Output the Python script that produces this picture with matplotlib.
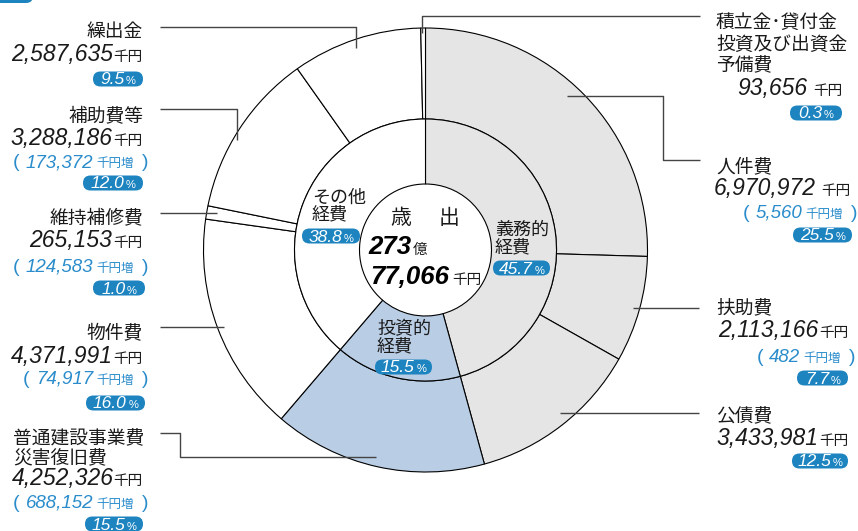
import matplotlib
matplotlib.use('Agg')
import matplotlib.pyplot as plt
from matplotlib.patches import FancyBboxPatch

# ---------------- data ----------------
outer_labels = ['人件費', '扶助費', '公債費', '普通建設事業費\n災害復旧費', '物件費',
                '維持補修費', '補助費等', '繰出金', '積立金･貸付金\n投資及び出資金\n予備費']
outer_values = [6970972, 2113166, 3433981, 4252326, 4371991, 265153, 3288186, 2587635, 93656]
outer_value_text = ['6,970,972', '2,113,166', '3,433,981', '4,252,326', '4,371,991',
                    '265,153', '3,288,186', '2,587,635', '93,656']
outer_pct = ['25.5', '7.7', '12.5', '15.5', '16.0', '1.0', '12.0', '9.5', '0.3']
outer_increase = ['5,560', '482', None, '688,152', '74,917', '124,583', '173,372', None, None]
outer_group = [0, 0, 0, 1, 2, 2, 2, 2, 2]

inner_labels = ['義務的\n経費', '投資的\n経費', 'その他\n経費']
inner_pct = ['45.7', '15.5', '38.8']
inner_values = [sum(v for v, g in zip(outer_values, outer_group) if g == k) for k in range(3)]

total_oku = '273'
total_sen = '77,066'
center_title = ['歳', '出']

# ---------------- style ----------------
GRAY = '#e5e5e5'
LBLUE = '#b9cde5'
BADGE = '#1d84c0'
TBLUE = '#2a8ccb'
INK = '#1a1a1a'
LINE = '#444444'
CJK = 'Noto Sans CJK JP'
LAT = 'Liberation Sans'
group_colors = [GRAY, LBLUE, 'white']

W, H = 858, 531
fig = plt.figure(figsize=(W / 100, H / 100), dpi=100)
ax = fig.add_axes([0, 0, 1, 1])
CX, CY = 425.5, 250
R_OUT, R_MID, R_IN = 222, 131, 66

ax.pie(outer_values, radius=R_OUT, center=(CX, CY), startangle=-90, counterclock=True,
       colors=[group_colors[g] for g in outer_group],
       wedgeprops=dict(width=R_OUT - R_MID, edgecolor='black', linewidth=0.8), frame=True)
ax.pie(inner_values, radius=R_MID, center=(CX, CY), startangle=-90, counterclock=True,
       colors=group_colors,
       wedgeprops=dict(width=R_MID - R_IN, edgecolor='black', linewidth=0.8), frame=True)

ax.set_xlim(0, W)
ax.set_ylim(H, 0)
ax.set_aspect('auto')
ax.axis('off')

renderer = fig.canvas.get_renderer()

NAME = dict(fontfamily=CJK, fontsize=13.5, color=INK)
NUM = dict(fontfamily=LAT, fontstyle='italic', fontsize=16.5, color=INK)
UNIT = dict(fontfamily=CJK, fontsize=10.5, color=INK)
INC = dict(fontfamily=LAT, fontstyle='italic', fontsize=13.5, color=TBLUE)
INCU = dict(fontfamily=CJK, fontsize=9, color=TBLUE)
PAREN = dict(fontfamily=LAT, fontsize=14, color=TBLUE)
BNUM = dict(fontfamily=LAT, fontstyle='italic', fontsize=12.5, color='white')
BPCT = dict(fontfamily=LAT, fontsize=8, color='white')


def place(x, y, pieces, ha='right'):
    items = []
    for s, kw, gap in pieces:
        t = ax.text(0, y, s, ha='left', va='baseline', **kw)
        w = t.get_window_extent(renderer).width
        items.append((t, gap, w))
    total = sum(g + w for _, g, w in items) - items[0][1]
    if ha == 'right':
        cur = x - total
    elif ha == 'center':
        cur = x - total / 2
    else:
        cur = x
    for i, (t, gap, w) in enumerate(items):
        if i > 0:
            cur += gap
        t.set_x(cur)
        cur += w


def badge(x_right, yc, w, pct, h=15):
    p = FancyBboxPatch((x_right - w, yc - h / 2), w, h,
                       boxstyle='round,pad=0,rounding_size=7.5',
                       facecolor=BADGE, edgecolor='none', zorder=3)
    ax.add_patch(p)
    place(x_right - w / 2, yc + 5.5, [(pct, dict(BNUM, zorder=4), 0),
                                       ('%', dict(BPCT, zorder=4), 1.5)], ha='center')


# layout for each outer label (index matches data order)
layout = {
    0: dict(name=(716, [163], 'left'), num=(851, 188, 6), inc=(857, 212), badge=(852, 235, 59)),
    1: dict(name=(716, [305], 'left'), num=(848, 330, 0), inc=(855, 356), badge=(848, 378, 51)),
    2: dict(name=(716, [413], 'left'), num=(848, 438, 0), inc=None, badge=(848, 461, 56)),
    3: dict(name=(13, [435, 455], 'left'), num=(143, 478, 0), inc=(148, 502), badge=(143, 524, 58)),
    4: dict(name=(143, [330], 'right'), num=(143, 356, 1), inc=(148, 378), badge=(145, 403, 59)),
    5: dict(name=(143, [215], 'right'), num=(143, 240, 2), inc=(148, 266), badge=(145, 288, 52)),
    6: dict(name=(143, [113], 'right'), num=(143, 137, 1), inc=(148, 161), badge=(143, 183, 60)),
    7: dict(name=(143, [27], 'right'), num=(143, 53, 1), inc=None, badge=(143, 79, 50)),
    8: dict(name=(716, [18, 40, 62], 'left'), num=(842, 88, 5), inc=None, badge=(842, 113, 52)),
}
NAME_DY = 4

for i, lab in enumerate(outer_labels):
    L = layout[i]
    nx, nys, nha = L['name']
    for line, ny in zip(lab.split('\n'), nys):
        ax.text(nx, ny + NAME_DY, line, ha=nha, va='center', **NAME)
    xr, ny, gap = L['num']
    place(xr, ny + 7.5, [(outer_value_text[i], NUM, 0), ('千円', UNIT, gap)])
    if L['inc'] is not None and outer_increase[i] is not None:
        xr, iy = L['inc']
        place(xr, iy + 6, [('(', PAREN, 0), (outer_increase[i], INC, 6),
                           ('千円増', INCU, 3), (')', PAREN, 8)])
    bx, by, bw = L['badge']
    badge(bx, by, bw, outer_pct[i])

# inner ring labels
inner_layout = [
    dict(x=495, ys=[227, 245], badge=(550, 268, 57)),
    dict(x=377, ys=[327, 344], badge=(432, 367, 57)),
    dict(x=312, ys=[195, 212], badge=(360, 236, 58)),
]
INNER = dict(fontfamily=CJK, fontsize=13, color=INK)
for lab, pct, L in zip(inner_labels, inner_pct, inner_layout):
    for line, y in zip(lab.split('\n'), L['ys']):
        ax.text(L['x'], y + 2.5, line, ha='left', va='center', **INNER)
    bx, by, bw = L['badge']
    badge(bx, by, bw, pct)

# centre text
TITLE = dict(fontfamily=CJK, fontsize=15, color=INK)
ax.text(401, 218, center_title[0], ha='center', va='center', **TITLE)
ax.text(449, 218, center_title[1], ha='center', va='center', **TITLE)
BIG = dict(fontfamily=LAT, fontstyle='italic', fontweight='bold', fontsize=18.5, color='black')
place(368, 254, [(total_oku, BIG, 0), ('億', UNIT, 2)], ha='left')
place(370, 284, [(total_sen, BIG, 0), ('千円', UNIT, 3)], ha='left')

# leader lines
leaders = [
    [(160, 27), (356, 27), (356, 48)],
    [(160, 109), (237, 109), (237, 140)],
    [(160, 213), (217, 213)],
    [(160, 327), (224, 327)],
    [(160, 433), (180, 433), (180, 457), (376, 457)],
    [(700, 16), (422, 16), (422, 33)],
    [(700, 160), (663, 160), (663, 96), (567, 96)],
    [(633, 308), (699, 308)],
    [(560, 413), (699, 413)],
]
for pts in leaders:
    xs, ys = zip(*pts)
    ax.plot(xs, ys, color=LINE, linewidth=1.0, solid_capstyle='butt', zorder=5)

# cut-off badge in the top-left corner
ax.add_patch(FancyBboxPatch((-30, -14), 63, 17, boxstyle='round,pad=0,rounding_size=7',
                            facecolor=BADGE, edgecolor='none', clip_on=True))

fig.savefig('out.png', dpi=100)
